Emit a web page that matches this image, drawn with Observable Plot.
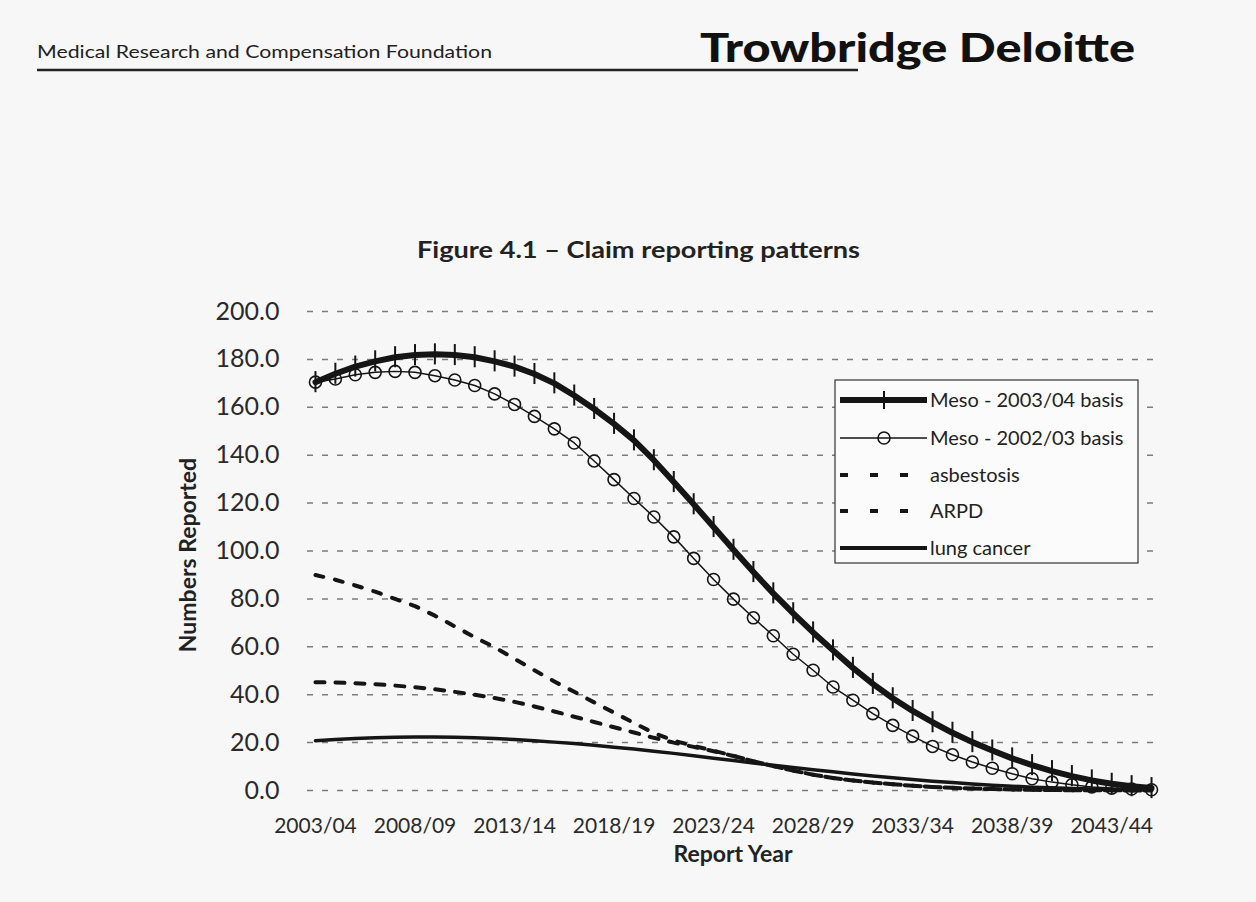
<!DOCTYPE html>
<html><head><meta charset="utf-8">
<script src="https://cdn.jsdelivr.net/npm/d3@7"></script>
<script src="https://cdn.jsdelivr.net/npm/@observablehq/plot@0.6"></script>
<style>
html,body{margin:0;padding:0;background:#f7f7f7;}
#page{position:relative;width:1256px;height:902px;overflow:hidden;background:#f7f7f7;font-family:Lato,"Open Sans",sans-serif;}
#header{height:270px;}
#overlay{position:absolute;left:0;top:0;}
</style></head><body>
<div id="page"><div id="header"></div><div id="chart"></div><svg id="overlay" width="1256" height="902"></svg></div>
<script>
// ---- data ----
const reportYears = [2003,2004,2005,2006,2007,2008,2009,2010,2011,2012,2013,2014,2015,2016,2017,2018,2019,2020,2021,2022,2023,2024,2025,2026,2027,2028,2029,2030,2031,2032,2033,2034,2035,2036,2037,2038,2039,2040,2041,2042,2043,2044,2045];
const tickYears = [2003,2008,2013,2018,2023,2028,2033,2038,2043];
const tickLabels = ["2003/04","2008/09","2013/14","2018/19","2023/24","2028/29","2033/34","2038/39","2043/44"];
const yTicks = [0,20,40,60,80,100,120,140,160,180,200];
const seriesNames = ["Meso - 2003/04 basis","Meso - 2002/03 basis","asbestosis","ARPD","lung cancer"];
const meso0304 = [170.5,174.0,177.0,179.2,180.9,181.8,182.1,181.8,180.9,179.2,177.0,173.9,170.0,164.9,159.3,153.1,146.2,137.9,128.8,119.5,110.0,100.5,91.2,82.3,74.0,66.0,58.5,51.2,44.5,38.5,33.2,28.5,24.1,20.2,16.7,13.4,10.6,8.1,6.0,4.2,2.8,1.8,1.0];
const meso0203 = [170.5,171.8,173.6,174.6,175.0,174.6,173.2,171.4,169.1,165.6,161.2,156.2,151.0,145.1,137.6,129.8,121.9,114.2,105.9,96.9,88.1,79.9,72.1,64.6,56.9,50.2,43.2,37.7,32.1,27.2,22.7,18.4,14.9,11.9,9.3,7.0,4.9,3.5,2.4,1.5,1.0,0.6,0.3];
const asbestosis = [90.0,88.0,85.6,83.0,80.0,77.0,73.0,68.5,64.0,59.8,55.0,50.2,45.5,41.2,36.8,32.5,28.2,24.0,20.8,18.6,16.6,14.5,12.2,10.2,8.3,6.6,5.2,4.2,3.3,2.6,2.0,1.5,1.1,0.8,0.6,0.4,0.3,0.2,0.1,0.1,0.1,0.0,0.0];
const arpd = [45.2,45.1,44.8,44.4,43.8,43.1,42.3,41.2,40.0,38.6,37.0,35.1,33.0,30.8,28.6,26.4,24.2,22.0,20.0,18.2,16.4,14.4,12.2,10.2,8.3,6.6,5.2,4.2,3.3,2.6,2.0,1.5,1.1,0.8,0.6,0.4,0.3,0.2,0.1,0.1,0.1,0.0,0.0];
const lungCancer = [20.8,21.3,21.7,22.0,22.2,22.3,22.3,22.2,22.0,21.7,21.3,20.8,20.2,19.6,18.9,18.1,17.3,16.4,15.5,14.5,13.5,12.5,11.5,10.5,9.6,8.7,7.8,6.9,6.1,5.3,4.6,3.9,3.3,2.7,2.2,1.8,1.4,1.1,0.8,0.6,0.4,0.3,0.2];

const rows = vals => reportYears.map((year, i) => ({year, value: vals[i]}));
const INK = "#151515";

const chart = Plot.plot({
  width: 1256, height: 632,
  marginTop: 41, marginBottom: 112, marginLeft: 307, marginRight: 101,
  style: {fontFamily: "Lato, 'Open Sans', sans-serif", background: "transparent", color: "#222", overflow: "visible"},
  x: {type: "linear", domain: [2002.6, 2045.2]},
  y: {domain: [0, 200]},
  marks: [
    Plot.ruleY(yTicks, {stroke: "#7c7c7c", strokeWidth: 1.5, strokeDasharray: "6,9"}),
    Plot.axisY(yTicks, {tickFormat: d3.format(".1f"), tickSize: 0, tickPadding: 28, fontSize: 25, label: null, fill: "#2a2a2a"}),
    Plot.axisX(tickYears, {tickFormat: y => tickLabels[tickYears.indexOf(y)], tickSize: 0, tickPadding: 28, fontSize: 21, label: null, fill: "#2a2a2a"}),
    Plot.line(rows(lungCancer), {x: "year", y: "value", stroke: INK, strokeWidth: 3.5}),
    Plot.line(rows(arpd), {x: "year", y: "value", stroke: INK, strokeWidth: 4, strokeDasharray: "9,11"}),
    Plot.line(rows(asbestosis), {x: "year", y: "value", stroke: INK, strokeWidth: 4, strokeDasharray: "8,12"}),
    Plot.line(rows(meso0203), {x: "year", y: "value", stroke: INK, strokeWidth: 1.5}),
    Plot.dot(rows(meso0203), {x: "year", y: "value", r: 6, stroke: INK, strokeWidth: 1.6, fill: "none"}),
    Plot.line(rows(meso0304), {x: "year", y: "value", stroke: INK, strokeWidth: 6}),
    Plot.ruleX(rows(meso0304), {x: "year", y1: d => d.value - 4.4, y2: d => d.value + 4.4, stroke: INK, strokeWidth: 2})
  ]
});
document.getElementById("chart").appendChild(chart);

// ---- header, titles and legend ----
const ov = d3.select("#overlay");
const FONT = "Lato, 'Open Sans', sans-serif";
ov.append("text").attr("x", 37).attr("y", 58).attr("font-family", FONT).attr("font-size", 18)
  .attr("fill", "#222").attr("textLength", 455).attr("lengthAdjust", "spacingAndGlyphs")
  .text("Medical Research and Compensation Foundation");
ov.append("line").attr("x1", 37).attr("x2", 858).attr("y1", 70).attr("y2", 70)
  .attr("stroke", "#222").attr("stroke-width", 2.5);
ov.append("text").attr("x", 700).attr("y", 62).attr("font-family", FONT).attr("font-size", 40)
  .attr("font-weight", 900).attr("fill", "#111").attr("textLength", 435).attr("lengthAdjust", "spacingAndGlyphs")
  .text("Trowbridge Deloitte");
ov.append("text").attr("x", 417).attr("y", 258).attr("font-family", FONT).attr("font-size", 23)
  .attr("font-weight", 700).attr("fill", "#222").attr("textLength", 443).attr("lengthAdjust", "spacingAndGlyphs")
  .text("Figure 4.1 – Claim reporting patterns");
ov.append("text").attr("transform", "translate(196,555) rotate(-90)").attr("text-anchor", "middle")
  .attr("font-family", FONT).attr("font-size", 23).attr("font-weight", 700).attr("fill", "#222")
  .text("Numbers Reported");
ov.append("text").attr("x", 733).attr("y", 862).attr("text-anchor", "middle")
  .attr("font-family", FONT).attr("font-size", 23).attr("font-weight", 700).attr("fill", "#222")
  .text("Report Year");

const lg = ov.append("g");
lg.append("rect").attr("x", 835).attr("y", 380).attr("width", 303).attr("height", 183)
  .attr("fill", "#fbfbfb").attr("stroke", "#333").attr("stroke-width", 1.2);
const rowY = [400, 438, 475, 511, 548];
const styles = [
  {w: 6, dash: null, tick: true},
  {w: 1.5, dash: null, circle: true},
  {w: 4, dash: "8,22"},
  {w: 4, dash: "8,22"},
  {w: 4, dash: null}
];
seriesNames.forEach((name, i) => {
  const y = rowY[i], s = styles[i];
  const ln = lg.append("line").attr("x1", 840).attr("x2", i >= 2 && i <= 3 ? 910 : 927).attr("y1", y).attr("y2", y)
    .attr("stroke", INK).attr("stroke-width", s.w);
  if (s.dash) ln.attr("stroke-dasharray", s.dash);
  if (s.tick) lg.append("line").attr("x1", 884).attr("x2", 884).attr("y1", y - 9).attr("y2", y + 9)
    .attr("stroke", INK).attr("stroke-width", 2);
  if (s.circle) lg.append("circle").attr("cx", 884).attr("cy", y).attr("r", 6)
    .attr("fill", "none").attr("stroke", INK).attr("stroke-width", 1.6);
  lg.append("text").attr("x", 930).attr("y", y).attr("dy", "0.35em").attr("font-family", FONT)
    .attr("font-size", 20).attr("fill", "#222").text(name);
});
</script>
</body></html>
